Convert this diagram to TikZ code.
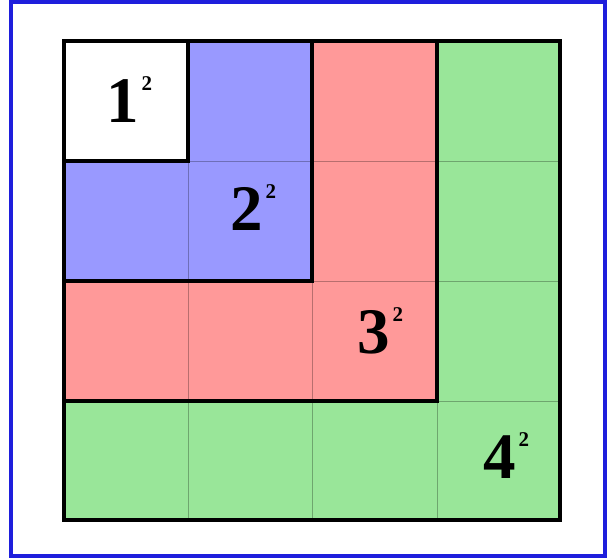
\documentclass[tikz,border=0pt]{standalone}
\usepackage{fontspec}
\setmainfont{Liberation Serif}
\definecolor{sqblue}{RGB}{153,153,255}
\definecolor{sqred}{RGB}{255,153,153}
\definecolor{sqgreen}{RGB}{153,230,153}
\definecolor{frameblue}{RGB}{30,30,220}
\newcommand\sqlab[2]{\fontsize{65}{65}\selectfont\bfseries #1\kern3pt\raisebox{32pt}{\fontsize{21}{21}\selectfont\bfseries #2}}
\tikzset{
  cellbox/.style={line width=0.9pt},
  thickline/.style={line width=4.5pt, draw=black, line join=miter},
  sqlabel/.style={anchor=base west, inner sep=0pt, text=black}
}
\begin{document}
\begin{tikzpicture}[x=1pt,y=1pt]
\useasboundingbox (0,0) rectangle (608,558);
\fill[white] (0,0) rectangle (608,558);
\draw[frameblue, line width=3.5pt] (11,2) rectangle (605,556);
% column and row boundaries (y flipped)
\def\xs{{64,188,312,437,560}}
\def\ys{{517,397,277,157,38}}
\foreach \i in {0,...,3}{
  \foreach \j in {0,...,3}{
    \pgfmathsetmacro{\xa}{\xs[\i]}
    \pgfmathsetmacro{\xb}{\xs[\i+1]}
    \pgfmathsetmacro{\ya}{\ys[\j]}
    \pgfmathsetmacro{\yb}{\ys[\j+1]}
    \pgfmathtruncatemacro{\m}{max(\i,\j)}
    \ifcase\m
      \def\cc{white}\or\def\cc{sqblue}\or\def\cc{sqred}\or\def\cc{sqgreen}\fi
    \filldraw[cellbox, fill=\cc, draw=\cc!72!black] (\xa,\ya) rectangle (\xb,\yb);
  }
}
\draw[thickline] (64,517) rectangle (188,397);
\draw[thickline] (64,517) rectangle (312,277);
\draw[thickline] (64,517) rectangle (437,157);
\draw[thickline] (64,517) rectangle (560,38);
\node[sqlabel] (n1) at (106,435) {\sqlab{1}{2}};
\node[sqlabel] (n2) at (230,327) {\sqlab{2}{2}};
\node[sqlabel] (n3) at (357,205) {\sqlab{3}{2}};
\node[sqlabel] (n4) at (483,80) {\sqlab{4}{2}};
\end{tikzpicture}
\end{document}
